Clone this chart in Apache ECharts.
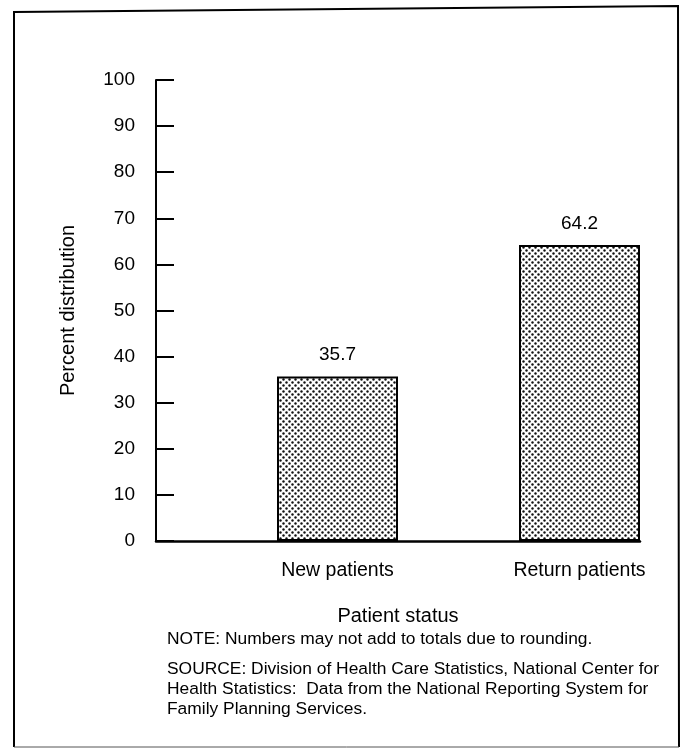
<!DOCTYPE html>
<html>
<head>
<meta charset="utf-8">
<script src="https://cdn.jsdelivr.net/npm/echarts@6/dist/echarts.min.js"></script>
<style>
html,body{margin:0;padding:0;background:#fff;}
#chart{width:685px;height:749px;}
</style>
</head>
<body>
<div id="chart"></div>
<script>
// ---- data ----
var categories = ['New patients', 'Return patients'];
var values = [35.7, 64.2];
var yTicks = [0, 10, 20, 30, 40, 50, 60, 70, 80, 90, 100];
var xAxisTitle = 'Patient status';
var yAxisTitle = 'Percent distribution';
var noteLines = [
  'NOTE: Numbers may not add to totals due to rounding.'
];
var sourceLines = [
  'SOURCE: Division of Health Care Statistics, National Center for',
  'Health Statistics:  Data from the National Reporting System for',
  'Family Planning Services.'
];

// build axis with a spacer band before each category
var axisCats = [];
var axisVals = [];
categories.forEach(function (c, i) {
  axisCats.push('');
  axisVals.push(null);
  axisCats.push(c);
  axisVals.push(values[i]);
});

// stipple pattern
var pc = document.createElement('canvas');
pc.width = 6; pc.height = 6;
var ctx = pc.getContext('2d');
ctx.fillStyle = '#ffffff';
ctx.fillRect(0, 0, 6, 6);
ctx.fillStyle = '#111111';
[[1.5, 1.5], [4.5, 4.5]].forEach(function (d) {
  ctx.beginPath(); ctx.arc(d[0], d[1], 1.2, 0, Math.PI * 2); ctx.fill();
});

var FONT = '"Liberation Sans", Arial, sans-serif';
var chart = echarts.init(document.getElementById('chart'), null, {renderer: 'canvas'});

var textEls = [];
noteLines.forEach(function (t, i) {
  textEls.push({type: 'text', style: {x: 167, y: 639 + i * 20, text: t, fill: '#000', font: '17.4px ' + FONT, verticalAlign: 'middle'}});
});
sourceLines.forEach(function (t, i) {
  textEls.push({type: 'text', style: {x: 167, y: 669 + i * 20, text: t, fill: '#000', font: '17.4px ' + FONT, verticalAlign: 'middle'}});
});

var option = {
  backgroundColor: '#ffffff',
  animation: false,
  grid: {left: 156, right: 45, top: 80, bottom: 208, containLabel: false},
  xAxis: {
    type: 'category',
    data: axisCats,
    boundaryGap: true,
    axisLine: {show: true, lineStyle: {color: '#000', width: 2.5}},
    axisTick: {show: false},
    axisLabel: {interval: 0, color: '#000', fontSize: 19.5, fontFamily: FONT, margin: 20},
    name: xAxisTitle,
    nameLocation: 'middle',
    nameGap: 65,
    nameTextStyle: {color: '#000', fontSize: 20, fontFamily: FONT},
    splitLine: {show: false}
  },
  yAxis: {
    type: 'value',
    min: yTicks[0],
    max: yTicks[yTicks.length - 1],
    interval: yTicks[1] - yTicks[0],
    axisLine: {show: true, lineStyle: {color: '#000', width: 2}},
    axisTick: {show: true, inside: true, length: 18, lineStyle: {color: '#000', width: 2}},
    axisLabel: {color: '#000', fontSize: 19, fontFamily: FONT, margin: 21},
    splitLine: {show: false},
    name: yAxisTitle,
    nameLocation: 'middle',
    nameRotate: 90,
    nameGap: 78,
    nameTextStyle: {color: '#000', fontSize: 20, fontFamily: FONT}
  },
  series: [{
    type: 'bar',
    data: axisVals,
    barWidth: '100%',
    itemStyle: {
      color: {image: pc, repeat: 'repeat'},
      borderColor: '#000',
      borderWidth: 2
    },
    label: {
      show: true,
      position: 'top',
      distance: 12,
      color: '#000',
      fontSize: 19,
      fontFamily: FONT,
      formatter: function (p) { return p.value == null ? '' : p.value.toFixed(1); }
    }
  }],
  graphic: [
    {type: 'polyline', shape: {points: [[14, 747], [14, 12], [678, 6], [679, 747]]}, style: {stroke: '#000', lineWidth: 2, fill: null}},
    {type: 'line', shape: {x1: 14, y1: 747, x2: 679, y2: 747}, style: {stroke: '#555', lineWidth: 1}}
  ].concat(textEls)
};
chart.setOption(option);
</script>
</body>
</html>
